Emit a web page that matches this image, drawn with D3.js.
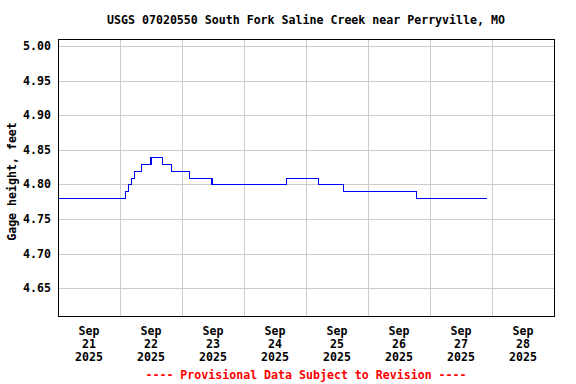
<!DOCTYPE html>
<html>
<head>
<meta charset="utf-8">
<script src="https://cdn.jsdelivr.net/npm/d3@7"></script>
<style>
  body { margin: 0; background: #fff; }
  text { font-family: "DejaVu Sans Mono", "Liberation Mono", monospace; font-weight: bold; }
</style>
</head>
<body>
<div id="chart"></div>
<script>

// gage height readings, stored as change points (value holds until next time)
var stepTimes = [
  "2025-09-21 00:00", "2025-09-22 02:12", "2025-09-22 03:15", "2025-09-22 04:30",
  "2025-09-22 05:45", "2025-09-22 08:24", "2025-09-22 12:00", "2025-09-22 16:18",
  "2025-09-22 20:00", "2025-09-23 02:54", "2025-09-23 11:36", "2025-09-24 16:18",
  "2025-09-25 04:48", "2025-09-25 14:24", "2025-09-26 18:48", "2025-09-27 22:15"
];
var stepValues = [
  4.78, 4.79, 4.80, 4.81,
  4.82, 4.83, 4.84, 4.83,
  4.82, 4.81, 4.80, 4.81,
  4.80, 4.79, 4.78, 4.78
];

var yTicks = [4.65, 4.70, 4.75, 4.80, 4.85, 4.90, 4.95, 5.00];
var dayTicks = ["2025-09-21", "2025-09-22", "2025-09-23", "2025-09-24",
                "2025-09-25", "2025-09-26", "2025-09-27", "2025-09-28"];

var title = "USGS 07020550 South Fork Saline Creek near Perryville, MO",
    yLabel = "Gage height, feet",
    footer = "---- Provisional Data Subject to Revision ----";

// note: "top" is a read-only window property, so use plot* names
var width = 576, height = 384,
    plotLeft = 58, plotRight = 554, plotTop = 39, plotBottom = 316;

var parseTime = d3.timeParse("%Y-%m-%d %H:%M"),
    parseDay = d3.timeParse("%Y-%m-%d");

var data = stepTimes.map(function (t, i) { return { t: parseTime(t), v: stepValues[i] }; });
var days = dayTicks.map(parseDay);

var x = d3.scaleTime()
          .domain([parseDay("2025-09-21"), parseDay("2025-09-29")])
          .range([plotLeft, plotRight]);
var y = d3.scaleLinear().domain([4.61, 5.01]).range([plotBottom, plotTop]);

var svg = d3.select("#chart").append("svg").attr("width", width).attr("height", height);

// grid
svg.append("g").selectAll("line").data(yTicks).enter().append("line")
   .attr("x1", plotLeft).attr("x2", plotRight)
   .attr("y1", function (d) { return Math.round(y(d)) + 0.5; })
   .attr("y2", function (d) { return Math.round(y(d)) + 0.5; })
   .style("stroke", "#cccccc").style("shape-rendering", "crispEdges");

svg.append("g").selectAll("line").data(days.slice(1)).enter().append("line")
   .attr("y1", plotTop).attr("y2", plotBottom)
   .attr("x1", function (d) { return Math.round(x(d)) + 0.5; })
   .attr("x2", function (d) { return Math.round(x(d)) + 0.5; })
   .style("stroke", "#cccccc").style("shape-rendering", "crispEdges");

// data line
var line = d3.line()
             .x(function (d) { return x(d.t); })
             .y(function (d) { return Math.round(y(d.v)) + 0.5; })
             .curve(d3.curveStepAfter);

svg.append("path").datum(data).attr("d", line)
   .style("fill", "none").style("stroke", "#0000ff").style("stroke-width", 1.2)
   .style("shape-rendering", "crispEdges");

// frame
svg.append("rect").attr("x", plotLeft + 0.5).attr("y", plotTop + 0.5)
   .attr("width", plotRight - plotLeft).attr("height", plotBottom - plotTop)
   .style("fill", "none").style("stroke", "#000").style("shape-rendering", "crispEdges");

// y tick labels
svg.append("g").selectAll("text").data(yTicks).enter().append("text")
   .attr("x", plotLeft - 7).attr("y", function (d) { return y(d) + 4; })
   .attr("text-anchor", "end").style("font-size", "11.6px")
   .text(function (d) { return d.toFixed(2); });

// x tick labels (centered on noon)
var fmtMon = d3.timeFormat("%b"), fmtDay = d3.timeFormat("%d"), fmtYr = d3.timeFormat("%Y");
var xl = svg.append("g").selectAll("text").data(days).enter().append("text")
   .attr("text-anchor", "middle").style("font-size", "11.6px")
   .attr("transform", function (d) { return "translate(" + x(d3.timeHour.offset(d, 12)) + ",335)"; });
xl.append("tspan").attr("x", 0).attr("dy", 0).text(function (d) { return fmtMon(d); });
xl.append("tspan").attr("x", 0).attr("dy", 13).text(function (d) { return fmtDay(d); });
xl.append("tspan").attr("x", 0).attr("dy", 13).text(function (d) { return fmtYr(d); });

// title, axis label, footer
svg.append("text").attr("x", 306).attr("y", 24).attr("text-anchor", "middle")
   .style("font-size", "11.6px").text(title);

svg.append("text").attr("transform", "translate(16," + ((plotTop + plotBottom) / 2 + 4) + ") rotate(-90)")
   .attr("text-anchor", "middle").style("font-size", "11.6px").text(yLabel);

svg.append("text").attr("x", 306).attr("y", 379).attr("text-anchor", "middle")
   .style("font-size", "11.6px").style("fill", "#ff0000").text(footer);

</script>
</body>
</html>
